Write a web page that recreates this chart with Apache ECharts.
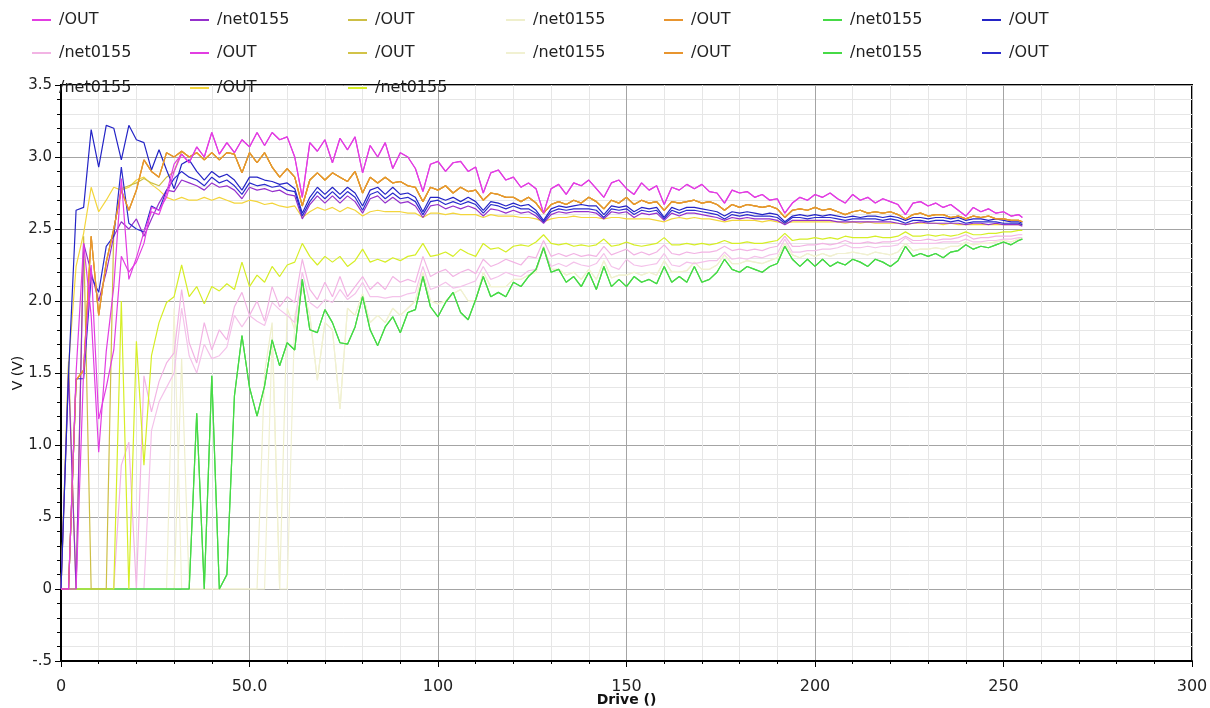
<!DOCTYPE html>
<html>
<head>
<meta charset="utf-8">
<title>Drive sweep</title>
<script src="https://cdn.jsdelivr.net/npm/echarts@6/dist/echarts.min.js"></script>
<style>
  html, body { margin: 0; padding: 0; background: #ffffff; }
  #chart { width: 1210px; height: 708px; }
</style>
</head>
<body>
<div id="chart"></div>
<script>
// Drive code sweep (every second code plus the last one)
const drive = [
  0, 2, 4, 6, 8, 10, 12, 14, 16, 18, 20, 22, 24, 26, 28, 30,
  32, 34, 36, 38, 40, 42, 44, 46, 48, 50, 52, 54, 56, 58, 60, 62,
  64, 66, 68, 70, 72, 74, 76, 78, 80, 82, 84, 86, 88, 90, 92, 94,
  96, 98, 100, 102, 104, 106, 108, 110, 112, 114, 116, 118, 120, 122, 124, 126,
  128, 130, 132, 134, 136, 138, 140, 142, 144, 146, 148, 150, 152, 154, 156, 158,
  160, 162, 164, 166, 168, 170, 172, 174, 176, 178, 180, 182, 184, 186, 188, 190,
  192, 194, 196, 198, 200, 202, 204, 206, 208, 210, 212, 214, 216, 218, 220, 222,
  224, 226, 228, 230, 232, 234, 236, 238, 240, 242, 244, 246, 248, 250, 252, 254,
  255
];

const xTickLabels = ['0', '50.0', '100', '150', '200', '250', '300'];
const yTickLabels = ['-.5', '0', '.5', '1.0', '1.5', '2.0', '2.5', '3.0', '3.5'];

// /OUT, magenta
const outMagenta = [
  0, 0, 1.50, 2.40, 1.90, 0.95, 1.65, 2.10, 2.85, 2.15, 2.30, 2.48, 2.62, 2.60, 2.75, 2.95,
  3.02, 2.96, 3.07, 3.00, 3.17, 3.02, 3.10, 3.03, 3.12, 3.07, 3.17, 3.08, 3.17, 3.12, 3.14, 3.00,
  2.72, 3.10, 3.04, 3.12, 2.96, 3.13, 3.05, 3.14, 2.89, 3.08, 3.00, 3.10, 2.92, 3.03, 3.00, 2.92,
  2.76, 2.95, 2.97, 2.90, 2.96, 2.97, 2.90, 2.93, 2.75, 2.89, 2.91, 2.84, 2.86, 2.79, 2.82, 2.78,
  2.61, 2.78, 2.81, 2.74, 2.82, 2.80, 2.84, 2.78, 2.72, 2.82, 2.84, 2.78, 2.74, 2.82, 2.77, 2.80,
  2.67, 2.79, 2.77, 2.81, 2.78, 2.81, 2.76, 2.75, 2.68, 2.77, 2.75, 2.76, 2.72, 2.74, 2.70, 2.71,
  2.61, 2.68, 2.72, 2.70, 2.74, 2.72, 2.75, 2.71, 2.68, 2.74, 2.70, 2.72, 2.68, 2.71, 2.69, 2.67,
  2.60, 2.68, 2.69, 2.66, 2.68, 2.65, 2.67, 2.63, 2.59, 2.65, 2.62, 2.64, 2.61, 2.62, 2.59, 2.60,
  2.58
];
// second magenta /OUT only departs from the first one at low codes
const outMagenta2Start = [
  0, 0, 0, 1.52, 2.25, 1.18, 1.40, 1.66, 2.31, 2.20, 2.27, 2.40, 2.65, 2.63, 2.72, 2.90
];
const outMagenta2 = outMagenta2Start.concat(outMagenta.slice(16));

// /OUT, orange
const outOrange = [
  0, 0, 1.45, 1.52, 2.45, 1.90, 2.27, 2.50, 2.77, 2.63, 2.77, 2.98, 2.90, 2.86, 3.03, 3.00,
  3.04, 3.00, 3.03, 2.98, 3.03, 2.98, 3.03, 3.02, 2.89, 3.03, 2.96, 3.03, 2.93, 2.86, 2.92, 2.86,
  2.66, 2.84, 2.89, 2.84, 2.89, 2.86, 2.83, 2.90, 2.75, 2.86, 2.82, 2.86, 2.82, 2.83, 2.80, 2.79,
  2.69, 2.79, 2.77, 2.80, 2.75, 2.79, 2.76, 2.77, 2.70, 2.75, 2.74, 2.72, 2.72, 2.69, 2.72, 2.68,
  2.61, 2.67, 2.69, 2.67, 2.70, 2.68, 2.72, 2.69, 2.64, 2.70, 2.68, 2.72, 2.67, 2.70, 2.68, 2.69,
  2.63, 2.69, 2.68, 2.69, 2.70, 2.68, 2.69, 2.67, 2.63, 2.67, 2.65, 2.67, 2.66, 2.65, 2.66, 2.64,
  2.58, 2.63, 2.64, 2.63, 2.65, 2.63, 2.64, 2.62, 2.60, 2.62, 2.63, 2.61, 2.62, 2.61, 2.62, 2.60,
  2.57, 2.60, 2.61, 2.59, 2.60, 2.60, 2.58, 2.59, 2.57, 2.59, 2.58, 2.59, 2.57, 2.57, 2.56, 2.56,
  2.55
];

// /OUT, olive: runs under the orange traces once settled
const outOliveStart = [
  0, 1.58, 0, 2.45, 0, 0, 0, 2.50, 2.78, 2.80, 2.82, 2.85, 2.82, 2.80, 2.86, 2.90
];
const outOlive = outOliveStart.concat(outOrange.slice(16));

// /OUT, blue (upper and lower traces)
const outBlue = [
  0, 1.49, 2.63, 2.65, 3.19, 2.93, 3.22, 3.20, 2.98, 3.22, 3.12, 3.10, 2.91, 3.05, 2.91, 2.78,
  2.95, 2.98, 2.90, 2.84, 2.90, 2.86, 2.88, 2.84, 2.77, 2.86, 2.86, 2.84, 2.83, 2.81, 2.82, 2.78,
  2.61, 2.72, 2.79, 2.74, 2.79, 2.74, 2.79, 2.75, 2.66, 2.77, 2.79, 2.74, 2.79, 2.74, 2.75, 2.72,
  2.62, 2.72, 2.72, 2.70, 2.72, 2.69, 2.72, 2.69, 2.63, 2.69, 2.68, 2.66, 2.68, 2.66, 2.67, 2.63,
  2.56, 2.64, 2.66, 2.65, 2.66, 2.67, 2.66, 2.66, 2.60, 2.66, 2.65, 2.66, 2.62, 2.65, 2.64, 2.65,
  2.58, 2.65, 2.63, 2.65, 2.65, 2.64, 2.63, 2.62, 2.59, 2.62, 2.61, 2.62, 2.61, 2.60, 2.61, 2.60,
  2.55, 2.59, 2.60, 2.59, 2.60, 2.59, 2.60, 2.59, 2.58, 2.59, 2.58, 2.59, 2.59, 2.58, 2.59, 2.58,
  2.56, 2.58, 2.58, 2.57, 2.58, 2.58, 2.57, 2.58, 2.56, 2.57, 2.57, 2.56, 2.57, 2.56, 2.55, 2.55,
  2.54
];
const outBlue2 = [
  0, 0, 1.46, 1.46, 2.17, 2.06, 2.38, 2.45, 2.93, 2.54, 2.50, 2.48, 2.66, 2.63, 2.77, 2.85,
  2.90, 2.86, 2.84, 2.80, 2.86, 2.82, 2.84, 2.80, 2.74, 2.82, 2.80, 2.81, 2.79, 2.80, 2.77, 2.76,
  2.59, 2.69, 2.76, 2.71, 2.76, 2.71, 2.76, 2.72, 2.63, 2.74, 2.76, 2.71, 2.75, 2.71, 2.72, 2.69,
  2.60, 2.69, 2.70, 2.67, 2.69, 2.67, 2.69, 2.67, 2.61, 2.67, 2.66, 2.64, 2.66, 2.64, 2.64, 2.61,
  2.55, 2.62, 2.64, 2.63, 2.64, 2.64, 2.64, 2.63, 2.58, 2.64, 2.63, 2.64, 2.60, 2.63, 2.62, 2.63,
  2.57, 2.63, 2.61, 2.63, 2.63, 2.62, 2.61, 2.60, 2.57, 2.60, 2.59, 2.60, 2.59, 2.59, 2.59, 2.58,
  2.54, 2.58, 2.58, 2.57, 2.58, 2.58, 2.58, 2.57, 2.56, 2.57, 2.57, 2.57, 2.57, 2.56, 2.57, 2.56,
  2.54, 2.56, 2.56, 2.55, 2.56, 2.56, 2.55, 2.56, 2.54, 2.55, 2.55, 2.55, 2.55, 2.54, 2.54, 2.54,
  2.53
];

// /net0155, purple
const netPurple = [
  0, 1.50, 0, 2.40, 2.20, 2.00, 2.20, 2.45, 2.55, 2.50, 2.57, 2.45, 2.57, 2.68, 2.77, 2.76,
  2.84, 2.82, 2.80, 2.77, 2.82, 2.79, 2.80, 2.77, 2.71, 2.79, 2.77, 2.78, 2.76, 2.77, 2.74, 2.73,
  2.57, 2.67, 2.73, 2.68, 2.73, 2.68, 2.73, 2.69, 2.61, 2.71, 2.73, 2.68, 2.72, 2.68, 2.69, 2.66,
  2.58, 2.66, 2.67, 2.64, 2.66, 2.64, 2.66, 2.64, 2.59, 2.64, 2.63, 2.61, 2.63, 2.61, 2.62, 2.59,
  2.54, 2.60, 2.62, 2.61, 2.62, 2.62, 2.62, 2.61, 2.57, 2.62, 2.61, 2.62, 2.58, 2.61, 2.60, 2.61,
  2.56, 2.61, 2.59, 2.61, 2.61, 2.60, 2.59, 2.58, 2.56, 2.58, 2.57, 2.58, 2.57, 2.57, 2.57, 2.56,
  2.53, 2.56, 2.56, 2.56, 2.56, 2.56, 2.56, 2.55, 2.55, 2.55, 2.55, 2.55, 2.55, 2.55, 2.55, 2.54,
  2.53, 2.54, 2.55, 2.54, 2.54, 2.54, 2.54, 2.54, 2.53, 2.54, 2.54, 2.53, 2.54, 2.53, 2.53, 2.53,
  2.52
];

// /OUT, yellow
const outYellow = [
  0, 1.55, 2.24, 2.47, 2.79, 2.62, 2.70, 2.79, 2.77, 2.79, 2.84, 2.86, 2.81, 2.77, 2.72, 2.70,
  2.72, 2.70, 2.70, 2.72, 2.70, 2.72, 2.70, 2.68, 2.68, 2.70, 2.69, 2.67, 2.68, 2.66, 2.65, 2.66,
  2.58, 2.62, 2.65, 2.63, 2.65, 2.62, 2.65, 2.63, 2.59, 2.62, 2.63, 2.62, 2.62, 2.62, 2.61, 2.61,
  2.58, 2.61, 2.61, 2.60, 2.61, 2.60, 2.60, 2.60, 2.58, 2.60, 2.59, 2.59, 2.59, 2.58, 2.58, 2.57,
  2.55, 2.57, 2.58, 2.58, 2.59, 2.58, 2.58, 2.58, 2.57, 2.58, 2.58, 2.57, 2.57, 2.57, 2.57, 2.56,
  2.55, 2.57, 2.58, 2.57, 2.58, 2.57, 2.57, 2.56, 2.55, 2.56, 2.56, 2.56, 2.56, 2.55, 2.56, 2.55,
  2.54, 2.55, 2.55, 2.55, 2.55, 2.55, 2.55, 2.55, 2.54, 2.55, 2.54, 2.55, 2.54, 2.54, 2.54, 2.54,
  2.53, 2.54, 2.54, 2.54, 2.54, 2.53, 2.54, 2.53, 2.53, 2.53, 2.53, 2.53, 2.53, 2.53, 2.53, 2.53,
  2.53
];

// /net0155, yellow-green
const netYellowGreen = [
  0, 0, 0, 0, 0, 0, 0, 0, 2.00, 0, 1.72, 0.86, 1.62, 1.85, 1.99, 2.03,
  2.25, 2.03, 2.10, 1.98, 2.10, 2.07, 2.12, 2.08, 2.27, 2.10, 2.18, 2.13, 2.24, 2.17, 2.25, 2.27,
  2.40, 2.31, 2.25, 2.31, 2.27, 2.31, 2.24, 2.28, 2.36, 2.27, 2.29, 2.27, 2.30, 2.28, 2.31, 2.32,
  2.40, 2.31, 2.32, 2.34, 2.31, 2.36, 2.33, 2.31, 2.40, 2.36, 2.37, 2.34, 2.38, 2.39, 2.38, 2.41,
  2.46, 2.40, 2.39, 2.40, 2.38, 2.39, 2.38, 2.39, 2.43, 2.38, 2.39, 2.41, 2.39, 2.38, 2.39, 2.40,
  2.44, 2.39, 2.39, 2.40, 2.39, 2.40, 2.39, 2.40, 2.42, 2.40, 2.40, 2.41, 2.40, 2.40, 2.41, 2.42,
  2.47, 2.42, 2.43, 2.43, 2.44, 2.43, 2.44, 2.43, 2.45, 2.44, 2.44, 2.44, 2.45, 2.44, 2.44, 2.45,
  2.48, 2.45, 2.45, 2.46, 2.45, 2.46, 2.45, 2.46, 2.48, 2.46, 2.46, 2.47, 2.47, 2.48, 2.48, 2.49,
  2.49
];

// /net0155, pink (upper and lower traces)
const netPink = [
  0, 0, 0, 0, 0, 0, 0, 0, 0.86, 1.02, 0, 1.48, 1.23, 1.44, 1.57, 1.64,
  2.08, 1.71, 1.57, 1.85, 1.66, 1.80, 1.73, 1.96, 2.06, 1.90, 2.00, 1.86, 2.10, 1.96, 2.03, 1.99,
  2.29, 2.08, 2.01, 2.13, 2.03, 2.17, 2.03, 2.10, 2.17, 2.08, 2.13, 2.08, 2.17, 2.13, 2.15, 2.13,
  2.31, 2.17, 2.20, 2.22, 2.17, 2.20, 2.22, 2.19, 2.29, 2.24, 2.26, 2.29, 2.27, 2.25, 2.31, 2.30,
  2.42, 2.31, 2.33, 2.31, 2.33, 2.31, 2.32, 2.31, 2.38, 2.32, 2.34, 2.36, 2.32, 2.34, 2.32, 2.34,
  2.39, 2.33, 2.32, 2.34, 2.33, 2.34, 2.34, 2.35, 2.38, 2.35, 2.36, 2.35, 2.36, 2.35, 2.37, 2.38,
  2.45, 2.38, 2.38, 2.39, 2.39, 2.40, 2.39, 2.40, 2.42, 2.40, 2.40, 2.41, 2.40, 2.41, 2.41, 2.42,
  2.45, 2.42, 2.42, 2.43, 2.42, 2.43, 2.43, 2.44, 2.46, 2.43, 2.44, 2.44, 2.45, 2.45, 2.45, 2.46,
  2.46
];
const netPink2 = [
  0, 0, 0, 0, 0, 0, 0, 0, 0, 0, 0, 0, 1.10, 1.30, 1.40, 1.50,
  1.95, 1.62, 1.50, 1.70, 1.60, 1.62, 1.68, 1.90, 1.82, 1.90, 1.86, 1.83, 1.99, 1.94, 1.90, 1.85,
  2.20, 1.99, 1.95, 2.01, 1.99, 2.08, 2.01, 2.05, 2.13, 2.03, 2.03, 2.02, 2.03, 2.03, 2.05, 2.06,
  2.24, 2.08, 2.10, 2.13, 2.09, 2.10, 2.12, 2.14, 2.24, 2.15, 2.17, 2.20, 2.18, 2.17, 2.21, 2.22,
  2.36, 2.24, 2.26, 2.24, 2.27, 2.25, 2.24, 2.26, 2.33, 2.24, 2.22, 2.29, 2.25, 2.24, 2.25, 2.26,
  2.33, 2.25, 2.24, 2.27, 2.26, 2.27, 2.28, 2.28, 2.34, 2.29, 2.30, 2.29, 2.31, 2.30, 2.32, 2.33,
  2.43, 2.34, 2.34, 2.35, 2.35, 2.36, 2.36, 2.37, 2.39, 2.37, 2.37, 2.38, 2.37, 2.38, 2.38, 2.39,
  2.44, 2.40, 2.40, 2.40, 2.40, 2.41, 2.41, 2.41, 2.43, 2.41, 2.41, 2.42, 2.42, 2.43, 2.43, 2.44,
  2.44
];

// /net0155, green
const netGreen = [
  0, 0, 0, 0, 0, 0, 0, 0, 0, 0, 0, 0, 0, 0, 0, 0,
  0, 0, 1.22, 0, 1.48, 0, 0.10, 1.34, 1.76, 1.40, 1.20, 1.41, 1.73, 1.55, 1.71, 1.66,
  2.15, 1.80, 1.78, 1.94, 1.85, 1.71, 1.70, 1.82, 2.03, 1.80, 1.69, 1.82, 1.89, 1.78, 1.92, 1.94,
  2.17, 1.96, 1.89, 1.99, 2.06, 1.92, 1.87, 2.01, 2.17, 2.03, 2.06, 2.03, 2.13, 2.10, 2.17, 2.22,
  2.37, 2.20, 2.22, 2.13, 2.17, 2.10, 2.20, 2.08, 2.24, 2.10, 2.15, 2.10, 2.17, 2.13, 2.15, 2.12,
  2.24, 2.13, 2.17, 2.13, 2.24, 2.13, 2.15, 2.20, 2.29, 2.22, 2.20, 2.24, 2.22, 2.20, 2.24, 2.26,
  2.38, 2.29, 2.24, 2.29, 2.24, 2.29, 2.24, 2.27, 2.25, 2.29, 2.27, 2.24, 2.29, 2.27, 2.24, 2.28,
  2.38, 2.31, 2.33, 2.31, 2.33, 2.30, 2.34, 2.35, 2.39, 2.36, 2.38, 2.37, 2.39, 2.41, 2.39, 2.42,
  2.43
];

// /net0155, pale cream
const netPale = [
  0, 0, 0, 0, 0, 0, 0, 0, 0, 0, 0, 0, 0, 0, 0, 0,
  1.60, 0, 0, 0, 0, 0, 0, 0, 0, 0, 0, 1.50, 1.85, 0, 1.95, 1.80,
  2.10, 1.90, 1.45, 1.85, 1.80, 1.25, 1.95, 1.90, 2.05, 1.85, 1.90, 1.85, 1.95, 1.90, 1.95, 2.00,
  2.20, 2.00, 1.98, 2.00, 2.05, 2.08, 2.00, 2.00, 2.20, 2.10, 2.10, 2.10, 2.15, 2.15, 2.18, 2.20,
  2.38, 2.22, 2.22, 2.18, 2.20, 2.15, 2.22, 2.15, 2.28, 2.16, 2.18, 2.18, 2.20, 2.18, 2.20, 2.18,
  2.28, 2.20, 2.20, 2.21, 2.27, 2.22, 2.22, 2.25, 2.32, 2.26, 2.26, 2.28, 2.27, 2.26, 2.28, 2.30,
  2.40, 2.32, 2.30, 2.33, 2.31, 2.33, 2.31, 2.33, 2.33, 2.34, 2.33, 2.32, 2.34, 2.33, 2.32, 2.34,
  2.40, 2.35, 2.36, 2.36, 2.37, 2.36, 2.38, 2.38, 2.41, 2.39, 2.40, 2.40, 2.41, 2.42, 2.41, 2.43,
  2.43
];
const netPale2Start = [
  0, 0, 0, 0, 0, 0, 0, 0, 0, 0, 0, 0, 0, 0, 0, 1.95,
  0, 0, 0, 0, 0, 0, 0, 0, 0, 0, 0, 0, 1.75, 0, 0, 1.90
];
const netPale2 = netPale2Start.concat(netPale.slice(32));

// Trace table: label, colour, values, legend row/column
const traces = [
  { label: '/OUT',     color: '#e23de2', values: outMagenta,     row: 0, col: 0 },
  { label: '/net0155', color: '#9530cc', values: netPurple,      row: 0, col: 1 },
  { label: '/OUT',     color: '#cdbf45', values: outOlive,       row: 0, col: 2 },
  { label: '/net0155', color: '#efefcc', values: netPale,        row: 0, col: 3 },
  { label: '/OUT',     color: '#e8952f', values: outOrange,      row: 0, col: 4 },
  { label: '/net0155', color: '#46da46', values: netGreen,       row: 0, col: 5 },
  { label: '/OUT',     color: '#2424c6', values: outBlue,        row: 0, col: 6 },
  { label: '/net0155', color: '#f2b4e4', values: netPink,        row: 1, col: 0 },
  { label: '/OUT',     color: '#e23de2', values: outMagenta2,    row: 1, col: 1 },
  { label: '/OUT',     color: '#d2c348', values: outOrange,      row: 1, col: 2 },
  { label: '/net0155', color: '#f1f1d2', values: netPale2,       row: 1, col: 3 },
  { label: '/OUT',     color: '#e8952f', values: outOrange,      row: 1, col: 4 },
  { label: '/net0155', color: '#46da46', values: netGreen,       row: 1, col: 5 },
  { label: '/OUT',     color: '#2b2bcc', values: outBlue2,       row: 1, col: 6 },
  { label: '/net0155', color: '#f4c2ea', values: netPink2,       row: 2, col: 0, hideIcon: true },
  { label: '/OUT',     color: '#f3d53c', values: outYellow,      row: 2, col: 1 },
  { label: '/net0155', color: '#d6ee26', values: netYellowGreen, row: 2, col: 2 }
];

// drawing order, back to front
const drawOrder = [3, 10, 14, 7, 12, 5, 16, 15, 2, 9, 1, 13, 6, 11, 4, 8, 0];

const legendLeft = [32, 190, 348, 506, 664, 823, 982];
const legendTop = [12, 45, 80];

// unique series keys; trailing blanks are trimmed in the legend
traces.forEach((t, i) => { t.key = t.label + ' '.repeat(i); });

const series = drawOrder.map(i => {
  const t = traces[i];
  return {
    name: t.key,
    type: 'line',
    data: drive.map((d, k) => [d, t.values[k]]),
    showSymbol: false,
    symbol: 'none',
    color: t.color,
    itemStyle: { color: t.color },
    lineStyle: { color: t.color, width: 1.2 },
    emphasis: { disabled: true },
    silent: true,
    animation: false
  };
});

const legends = traces.map(t => ({
  show: true,
  left: legendLeft[t.col],
  top: legendTop[t.row],
  padding: 0,
  itemWidth: 19,
  itemHeight: 2,
  icon: 'rect',
  selectedMode: false,
  formatter: n => n.trim(),
  textStyle: {
    fontFamily: 'DejaVu Sans',
    fontSize: 16,
    color: '#222',
    padding: [0, 0, 0, 3]
  },
  data: [t.hideIcon
    ? { name: t.key, itemStyle: { color: 'rgba(0,0,0,0)' } }
    : { name: t.key }]
}));

const chart = echarts.init(document.getElementById('chart'), null, { renderer: 'canvas' });
chart.setOption({
  backgroundColor: '#ffffff',
  animation: false,
  legend: legends,
  grid: {
    left: 61, right: 18, top: 85, bottom: 47,
    containLabel: false,
    outerBoundsMode: 'none',
    show: true,
    borderColor: '#000',
    borderWidth: 2,
    backgroundColor: 'transparent'
  },
  xAxis: {
    type: 'value',
    min: 0, max: 300, interval: 50,
    name: 'Drive ()',
    nameLocation: 'middle',
    nameGap: 32,
    nameMoveOverlap: false,
    nameTextStyle: { fontFamily: 'DejaVu Sans', fontSize: 14, fontWeight: 'bold', color: '#111' },
    axisLine: { show: true, onZero: false, lineStyle: { color: '#000', width: 2 } },
    axisTick: { show: true, length: 6, lineStyle: { color: '#000' } },
    minorTick: { show: true, splitNumber: 5, length: 3, lineStyle: { color: '#000' } },
    axisLabel: {
      margin: 18,
      fontFamily: 'DejaVu Sans', fontSize: 16, color: '#222',
      formatter: v => xTickLabels[Math.round(v / 50)]
    },
    splitLine: { show: true, lineStyle: { color: '#a4a4a4', width: 1 } },
    minorSplitLine: { show: true, lineStyle: { color: '#e6e6e6', width: 1 } }
  },
  yAxis: {
    type: 'value',
    min: -0.5, max: 3.5, interval: 0.5,
    name: 'V (V)',
    nameLocation: 'middle',
    nameGap: 36,
    nameRotate: 90,
    nameMoveOverlap: false,
    nameTextStyle: { fontFamily: 'DejaVu Sans', fontSize: 14, color: '#111' },
    axisLine: { show: true, onZero: false, lineStyle: { color: '#000', width: 2 } },
    axisTick: { show: true, length: 6, lineStyle: { color: '#000' } },
    minorTick: { show: true, splitNumber: 5, length: 4, lineStyle: { color: '#000' } },
    axisLabel: {
      margin: 9,
      fontFamily: 'DejaVu Sans', fontSize: 15, color: '#222',
      formatter: v => yTickLabels[Math.round((v + 0.5) / 0.5)]
    },
    splitLine: { show: true, lineStyle: { color: '#a4a4a4', width: 1 } },
    minorSplitLine: { show: true, lineStyle: { color: '#e6e6e6', width: 1 } }
  },
  series: series
});
</script>
</body>
</html>
